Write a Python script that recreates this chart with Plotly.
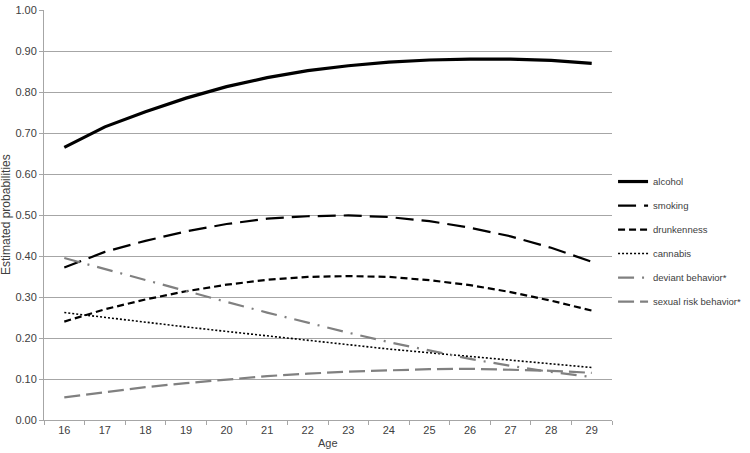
import plotly.graph_objects as go

ages = [str(a) for a in range(16, 30)]
alcohol = [0.665, 0.715, 0.752, 0.785, 0.813, 0.835, 0.852, 0.864, 0.873, 0.878, 0.880, 0.880, 0.877, 0.870]
smoking = [0.372, 0.410, 0.437, 0.460, 0.478, 0.491, 0.497, 0.499, 0.495, 0.485, 0.469, 0.448, 0.420, 0.386]
drunkenness = [0.240, 0.270, 0.294, 0.314, 0.330, 0.342, 0.349, 0.351, 0.349, 0.341, 0.329, 0.312, 0.291, 0.267]
cannabis = [0.262, 0.250, 0.238, 0.227, 0.216, 0.205, 0.194, 0.183, 0.173, 0.164, 0.155, 0.146, 0.137, 0.128]
deviant = [0.395, 0.368, 0.341, 0.314, 0.288, 0.262, 0.237, 0.213, 0.190, 0.169, 0.149, 0.132, 0.117, 0.105]
sexual = [0.055, 0.068, 0.080, 0.090, 0.099, 0.107, 0.113, 0.118, 0.121, 0.124, 0.125, 0.123, 0.120, 0.115]
ymax = 1.0
ystep = 0.1

series = [
    ("alcohol", alcohol, "black", "solid", 3.2),
    ("smoking", smoking, "black", "18px,8px", 2.2),
    ("drunkenness", drunkenness, "black", "7px,4px", 2.2),
    ("cannabis", cannabis, "black", "2px,2px", 1.6),
    ("deviant behavior*", deviant, "#808080", "16px,8px,2px,8px", 2.2),
    ("sexual risk behavior*", sexual, "#808080", "16px,6px", 2.2),
]

fig = go.Figure()
for i, (name, vals, col, dash, w) in enumerate(series):
    fig.add_trace(go.Scatter(x=ages, y=vals, mode="lines", name=name,
                             legendgroup=f"g{i}",
                             line=dict(color=col, dash=dash, width=w)))

font_family = "Liberation Sans, Arial, sans-serif"
fig.update_layout(
    width=750, height=453,
    margin=dict(l=44, r=134, t=4, b=33),
    plot_bgcolor="white", paper_bgcolor="white",
    font=dict(family=font_family, size=11, color="#404040"),
    showlegend=True,
    legend=dict(x=1.236, y=0.617, xanchor="right", yanchor="top",
                font=dict(size=9.5, color="#404040"),
                itemwidth=30, tracegroupgap=5, traceorder="grouped",
                bgcolor="rgba(0,0,0,0)"),
    xaxis=dict(type="category", range=[-0.5, 13.5], showgrid=False,
               showline=True, linecolor="#a6a6a6", linewidth=1,
               ticks="outside", tickson="boundaries", ticklen=4, tickcolor="#a6a6a6",
               tickfont=dict(size=11, color="#404040")),
    yaxis=dict(range=[0, ymax], tickmode="linear", tick0=0, dtick=ystep, tickformat=".2f",
               ticklabeloverflow="allow",
               showgrid=True, gridcolor="#a6a6a6", gridwidth=1,
               showline=True, linecolor="#a6a6a6", linewidth=1,
               ticks="outside", ticklen=4, tickcolor="#a6a6a6",
               zeroline=False, tickfont=dict(size=11, color="#404040")),
    annotations=[
        dict(text="Age", xref="paper", yref="paper", x=0.5, y=0, yshift=-23,
             xanchor="center", yanchor="middle", showarrow=False,
             font=dict(size=11, color="#404040")),
        dict(text="Estimated probabilities", xref="paper", yref="paper",
             x=0, xshift=-38, y=0.5, xanchor="center", yanchor="middle",
             textangle=-90, showarrow=False,
             font=dict(size=12, color="#404040")),
    ],
)

fig.write_html("out.html", config={"displayModeBar": False},
               post_script="document.body.style.margin='0';")
